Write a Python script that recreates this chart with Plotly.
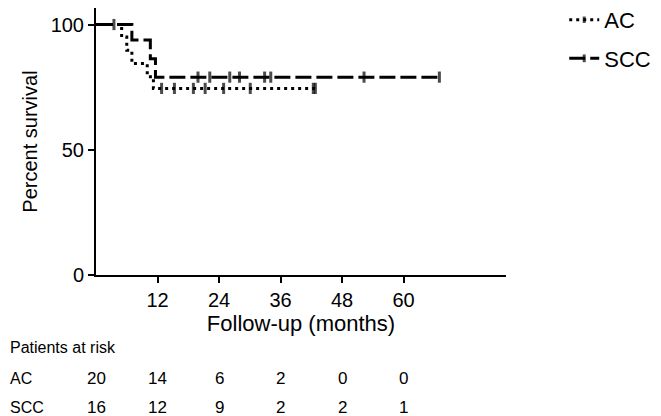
import plotly.graph_objects as go

# Kaplan-Meier step points (months, percent); censored flag marks tick marks
ac_time = [0, 5, 6, 7, 10, 11.2, 12.8, 15.3, 19.0, 21.3, 24.9, 30.1, 42.4, 42.8]
ac_surv = [100, 95, 89.7, 84.4, 79.2, 74.5, 74.5, 74.5, 74.5, 74.5, 74.5, 74.5, 74.5, 74.5]
ac_censored = [0, 0, 0, 0, 0, 0, 1, 1, 1, 1, 1, 1, 1, 1]

scc_time = [0, 3.5, 7, 10.6, 11.6, 19.9, 22.2, 26.1, 28.0, 32.9, 34.1, 52.3, 67]
scc_surv = [100, 100, 93.8, 86.3, 79, 79, 79, 79, 79, 79, 79, 79, 79]
scc_censored = [0, 1, 0, 0, 0, 1, 1, 1, 1, 1, 1, 1, 1]

risk_times = [0, 12, 24, 36, 48, 60]
risk_ac = [20, 14, 6, 2, 0, 0]
risk_scc = [16, 12, 9, 2, 2, 1]

FONT = "Liberation Sans, Arial, sans-serif"


def km_trace(name, t, s, cens, dash):
    return go.Scatter(
        x=t, y=s, name=name, mode="lines+markers",
        line=dict(shape="hv", color="black", width=3, dash=dash),
        marker=dict(symbol="line-ns", size=[8 if c else 0 for c in cens],
                    color="black", line=dict(width=3, color="black")),
        legendgroup=name,
    )


fig = go.Figure()
fig.add_trace(km_trace("AC", ac_time, ac_surv, ac_censored, "3px,4px"))
fig.add_trace(km_trace("SCC", scc_time, scc_surv, scc_censored, "16px,5px"))

# page body has an 8px margin, so the figure is 8px smaller than the window
annos = []
annos.append(dict(text="Patients at risk", x=-0.2146, xref="paper", xanchor="left",
                  y=-0.2734, yref="paper", yanchor="middle", showarrow=False,
                  font=dict(size=16)))
for label, vals, yy in [("AC", risk_ac, -0.3858), ("SCC", risk_scc, -0.498)]:
    annos.append(dict(text=label, x=-0.2146, xref="paper", xanchor="left",
                      y=yy, yref="paper", yanchor="middle", showarrow=False,
                      font=dict(size=16)))
    for tm, v in zip(risk_times, vals):
        annos.append(dict(text=str(v), x=tm, xref="x", xanchor="center",
                          y=yy, yref="paper", yanchor="middle",
                          showarrow=False, font=dict(size=17)))

fig.update_layout(
    width=653, height=408,
    margin=dict(l=88, r=155, t=0, b=141, autoexpand=False),
    paper_bgcolor="white", plot_bgcolor="white",
    font=dict(family=FONT, color="black", size=19),
    xaxis=dict(range=[0, 80], tickvals=[12, 24, 36, 48, 60], ticks="outside",
               ticklen=6, tickwidth=2, tickcolor="black", showline=True,
               linewidth=2, linecolor="black", showgrid=False, zeroline=False,
               automargin=False,
               title=dict(text="Follow-up (months)", font=dict(size=22), standoff=4),
               tickfont=dict(size=20)),
    yaxis=dict(range=[0, 106.6], tickvals=[0, 50, 100], ticks="outside",
               ticklen=6, tickwidth=2, tickcolor="black", showline=True,
               linewidth=2, linecolor="black", showgrid=False, zeroline=False,
               automargin=False,
               title=dict(text="Percent survival", font=dict(size=20), standoff=8),
               tickfont=dict(size=20)),
    legend=dict(x=1.142, xanchor="left", y=1.034, yanchor="top",
                font=dict(size=22), itemwidth=30, tracegroupgap=7,
                bgcolor="rgba(0,0,0,0)"),
    annotations=annos,
    showlegend=True,
)

fig.write_html("out.html")
